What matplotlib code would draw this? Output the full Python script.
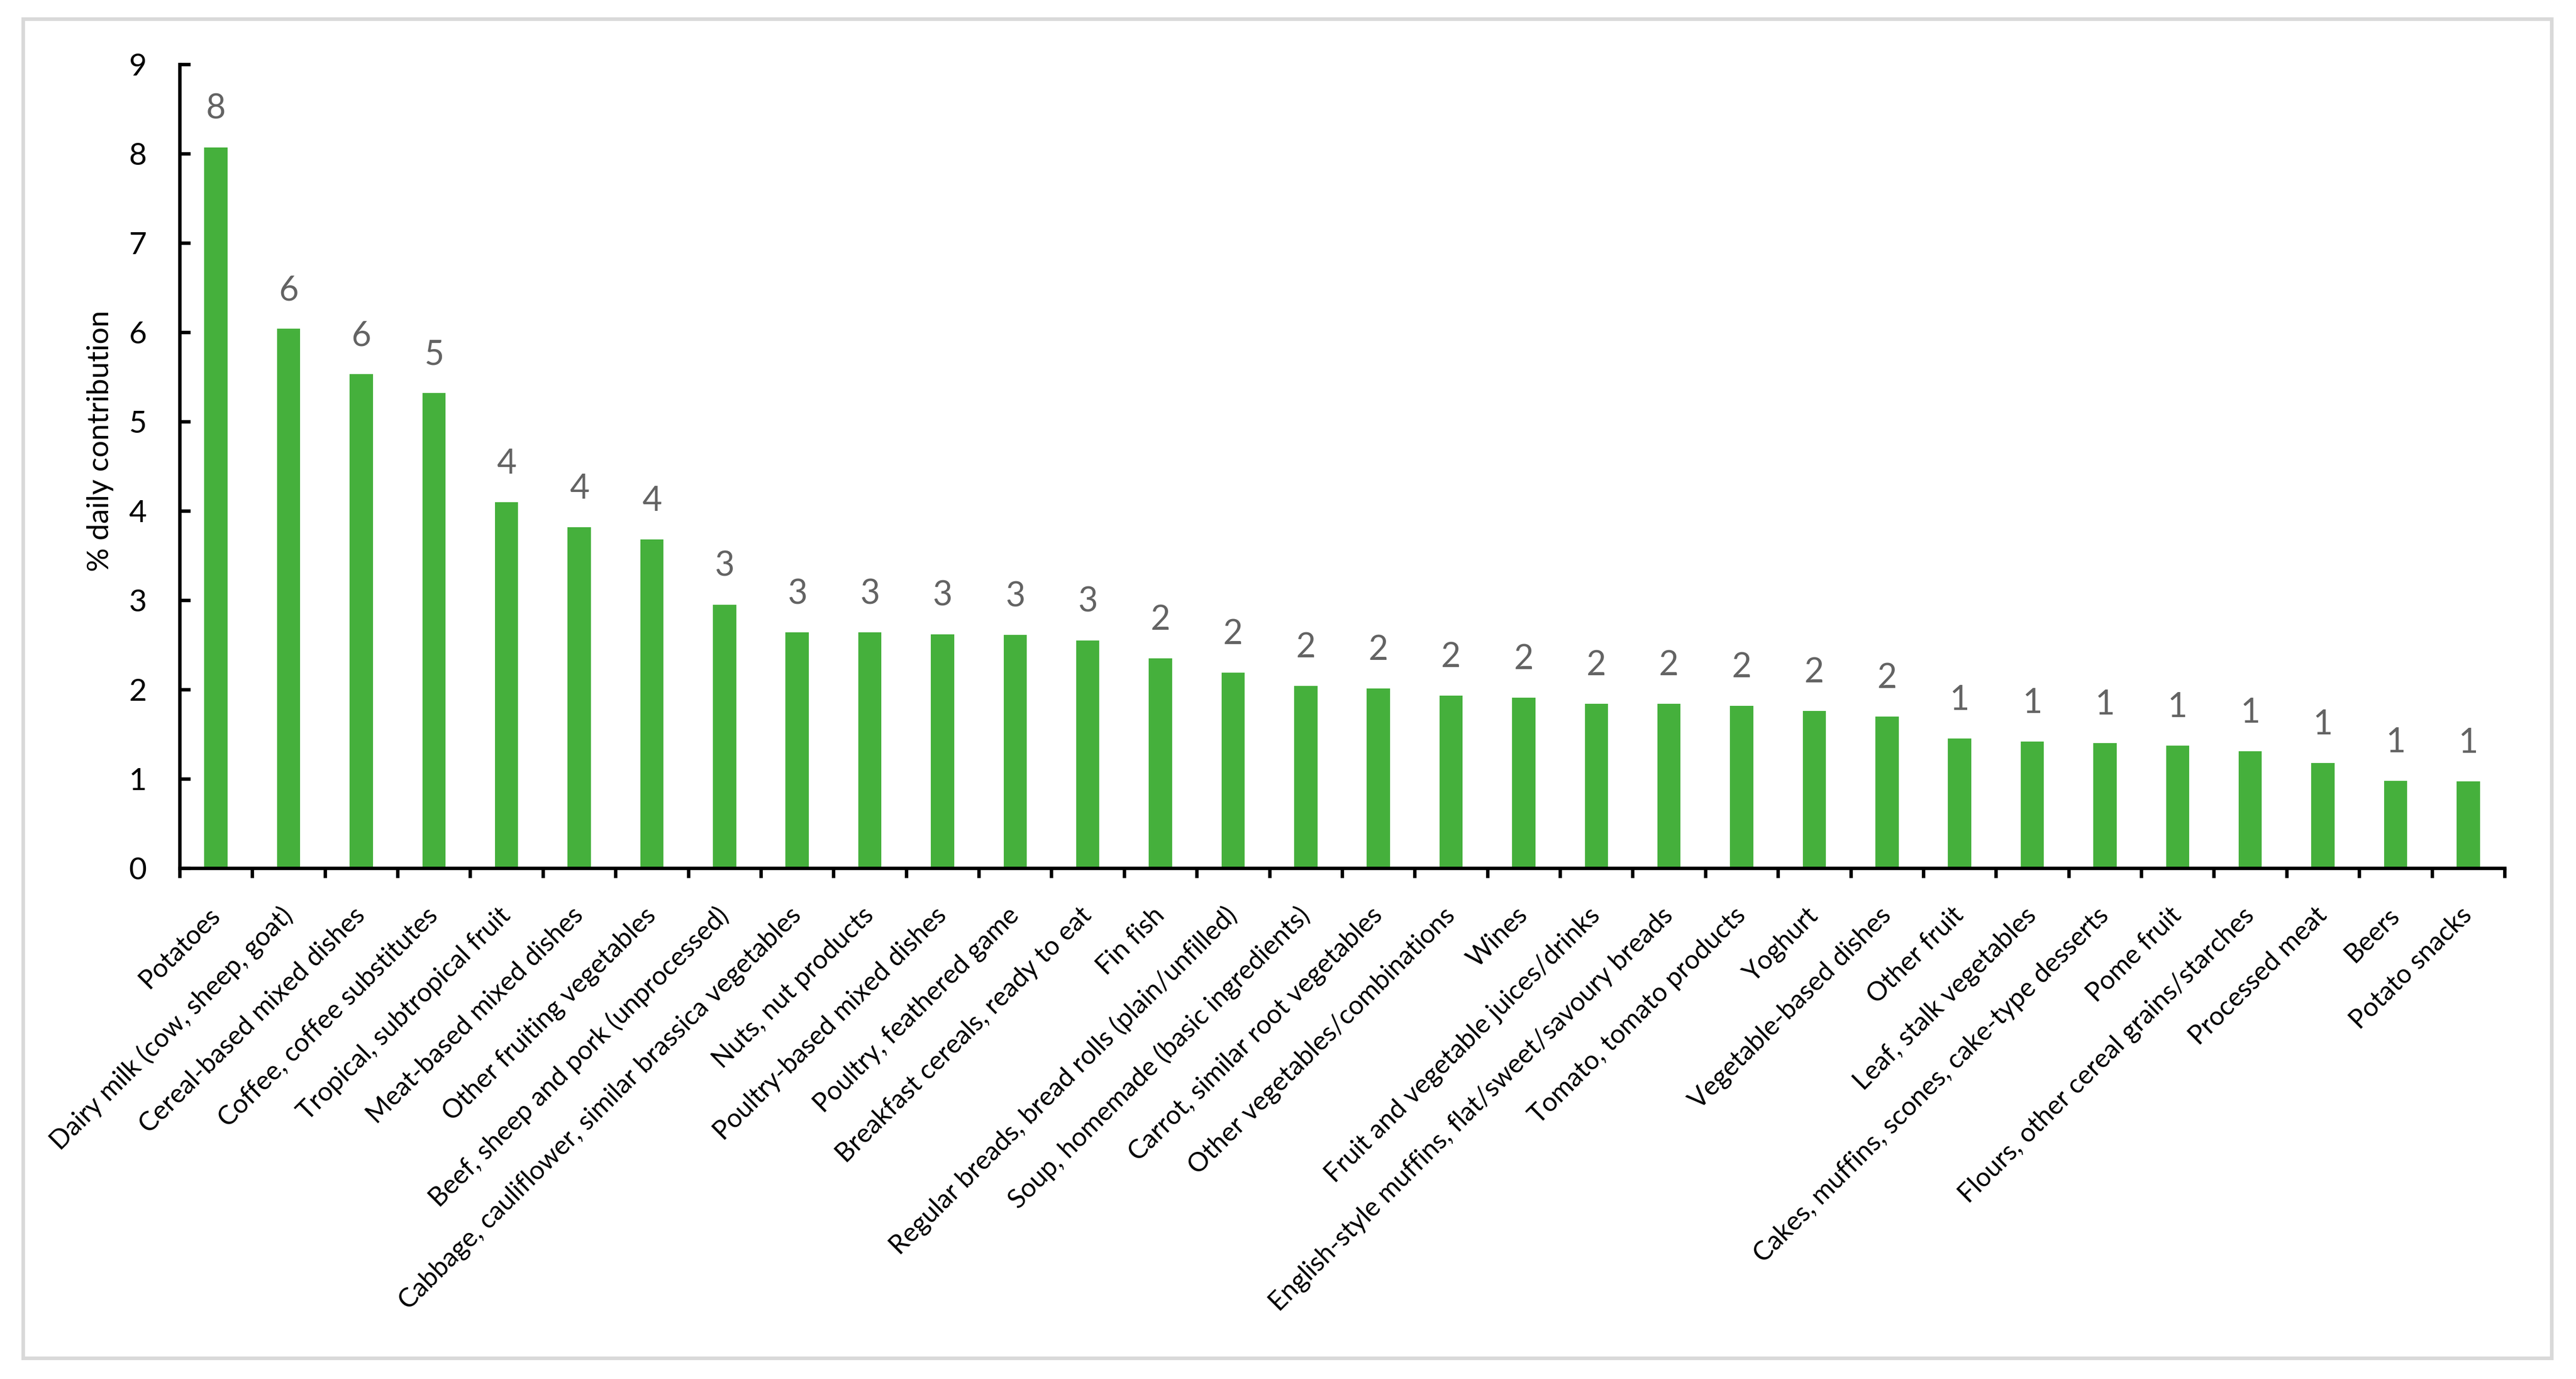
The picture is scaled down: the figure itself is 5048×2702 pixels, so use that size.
import matplotlib
matplotlib.use("Agg")
import matplotlib.pyplot as plt
from matplotlib.patches import Rectangle
import numpy as np

plt.rcParams['font.family'] = ['Lato', 'DejaVu Sans']

# food groups, sorted by contribution
categories = [
    "Potatoes",
    "Dairy milk (cow, sheep, goat)",
    "Cereal-based mixed dishes",
    "Coffee, coffee substitutes",
    "Tropical, subtropical fruit",
    "Meat-based mixed dishes",
    "Other fruiting vegetables",
    "Beef, sheep and pork (unprocessed)",
    "Cabbage, cauliflower, similar brassica vegetables",
    "Nuts, nut products",
    "Poultry-based mixed dishes",
    "Poultry, feathered game",
    "Breakfast cereals, ready to eat",
    "Fin fish",
    "Regular breads, bread rolls (plain/unfilled)",
    "Soup, homemade (basic ingredients)",
    "Carrot, similar root vegetables",
    "Other vegetables/combinations",
    "Wines",
    "Fruit and vegetable juices/drinks",
    "English-style muffins, flat/sweet/savoury breads",
    "Tomato, tomato products",
    "Yoghurt",
    "Vegetable-based dishes",
    "Other fruit",
    "Leaf, stalk vegetables",
    "Cakes, muffins, scones, cake-type desserts",
    "Pome fruit",
    "Flours, other cereal grains/starches",
    "Processed meat",
    "Beers",
    "Potato snacks",
]

# % daily contribution
values = [8.07, 6.04, 5.53, 5.32, 4.10, 3.82, 3.68, 2.95, 2.64, 2.64,
          2.62, 2.61, 2.55, 2.35, 2.19, 2.04, 2.01, 1.93, 1.91, 1.84,
          1.84, 1.82, 1.76, 1.70, 1.45, 1.42, 1.40, 1.37, 1.31, 1.18,
          0.98, 0.97]

# labels shown above the bars (rounded)
bar_labels = ["8", "6", "6", "5", "4", "4", "4", "3", "3", "3",
              "3", "3", "3", "2", "2", "2", "2", "2", "2", "2",
              "2", "2", "2", "2", "1", "1", "1", "1", "1", "1",
              "1", "1"]

W, H, DPI = 5049, 2702, 300
fig = plt.figure(figsize=(W/DPI, H/DPI), dpi=DPI)

# chart area border (excel style)
fig.patches.append(Rectangle((45.5/W, 1-2661/H), (5000-45.5)/W, (2661-36.5)/H,
                             transform=fig.transFigure, fill=False,
                             edgecolor='#D9D9D9', linewidth=1.7))

ax = fig.add_axes([352/W, 1-1701/H, (4908-352)/W, (1701-126)/H])

x = np.arange(len(categories))
ax.bar(x, values, width=0.32, color='#45B03C', zorder=2)

for xi, v, lab in zip(x, values, bar_labels):
    ax.annotate(lab, (xi, v), xytext=(0, 13.4), textcoords='offset points',
                ha='center', va='baseline', fontsize=16, color='#636363')

ax.set_xlim(-0.5, len(categories)-0.5)
ax.set_ylim(0, 9)
ax.set_yticks(range(0, 10))

for s in ['top', 'right']:
    ax.spines[s].set_visible(False)
for s in ['left', 'bottom']:
    ax.spines[s].set_linewidth(1.6)

ax.tick_params(axis='y', direction='in', length=5, width=1.6, pad=15.5,
               labelsize=14.5)
# ticks between the categories, labels at the centres
ax.set_xticks(np.arange(-0.5, len(categories)), minor=False)
ax.set_xticklabels([])
ax.tick_params(axis='x', which='major', direction='out', length=4.6, width=1.6)
ax.set_xticks(x, minor=True)
ax.set_xticklabels(categories, minor=True, rotation=45, ha='right', va='center',
                   rotation_mode='anchor', fontsize=12.4)
ax.tick_params(axis='x', which='minor', length=0, pad=20.5)

fig.text(197/W, 1-864/H, "% daily contribution", rotation=90,
         ha='center', va='center', fontsize=14)

fig.savefig("out.png", dpi=DPI)
